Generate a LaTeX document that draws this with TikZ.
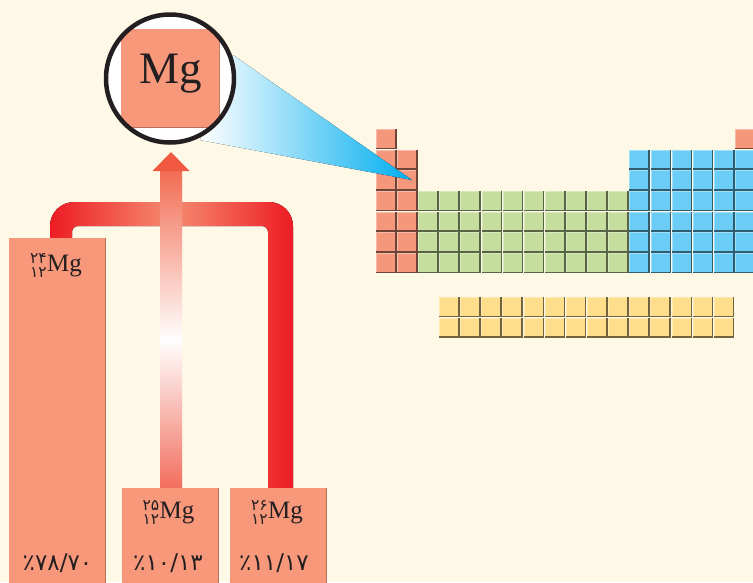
\documentclass[tikz,border=0pt]{standalone}
\usepackage{fontspec}
\setmainfont{Liberation Serif}
\newfontfamily\fadig{DejaVu Sans}
\definecolor{bg}{HTML}{FEF8E7}
\definecolor{salmon}{HTML}{F7987B}
\definecolor{boxedge}{HTML}{B8705C}
\definecolor{cred}{HTML}{F4977B}
\definecolor{cgreen}{HTML}{C6DE9D}
\definecolor{cblue}{HTML}{6BCDF6}
\definecolor{cyell}{HTML}{FEDD8B}
\definecolor{arrred}{HTML}{ED1C24}
\definecolor{arrmid}{HTML}{F58C72}
\definecolor{shafttop}{HTML}{F26C52}
\definecolor{shaftbot}{HTML}{F26E5E}
\definecolor{headc}{HTML}{F15A40}
\definecolor{cyanc}{HTML}{00AEEF}
\definecolor{ink}{HTML}{231F20}
\newcommand\ptcell[3]{%
  \fill[#3] (#1,#2) rectangle ++(20.6,20.2);
  \fill[#3!65!white] (#1,#2) rectangle ++(20.6,0.9);
  \fill[#3!65!white] (#1,#2) rectangle ++(0.9,20.2);
  \fill[#3!45!black] (#1+19.0,#2) rectangle ++(1.6,20.2);
  \fill[#3!45!black] (#1,#2+18.6) rectangle ++(20.6,1.6);
}
\newcommand\ptcellrc[3]{%
  \pgfmathsetmacro\cx{376+(#2-1)*21.12}%
  \pgfmathsetmacro\cy{129+(#1-1)*20.67}%
  \ptcell{\cx}{\cy}{#3}}
\newcommand\isotope[2]{{\fadig\fontsize{15.5}{14}\selectfont\begin{tabular}[c]{@{}r@{}}#1\\#2\end{tabular}}\kern0.3pt{\fontsize{25}{25}\selectfont Mg}}
\begin{document}
\begin{tikzpicture}[x=1pt,y=-1pt,
  isobox/.style={fill=salmon, draw=none, inner sep=0pt, minimum width=97pt},
  pct/.style={font=\fadig\fontsize{23}{23}\selectfont, anchor=base, inner sep=0pt, text=ink},
  iso/.style={inner sep=0pt, text=ink}]
\useasboundingbox (0,0) rectangle (753,582);
\clip (0,0) rectangle (753,582);
\fill[bg] (0,0) rectangle (753,582);

% periodic table
\foreach \c in {1,18} {\ptcellrc{1}{\c}{cred}}
\foreach \r in {2,...,7} {
  \foreach \c in {1,2} {\ptcellrc{\r}{\c}{cred}}
  \foreach \c in {13,...,18} {\ptcellrc{\r}{\c}{cblue}}
}
\foreach \r in {4,...,7} {
  \foreach \c in {3,...,12} {\ptcellrc{\r}{\c}{cgreen}}
}
\foreach \j in {1,2} {
  \foreach \i in {1,...,14} {
    \pgfmathsetmacro\lx{439+(\i-1)*21.14}
    \pgfmathsetmacro\ly{297+(\j-1)*20.8}
    \ptcell{\lx}{\ly}{cyell}
  }
}

% cone
\coordinate (tip) at (412,180);
\fill[left color=white, right color=cyanc] (233,55) -- (tip) -- (200,140) -- cycle;

% magnifier
\node[circle, fill=white, minimum size=128pt, inner sep=0pt] (lens) at (170,78.5) {};
\begin{scope}
  \clip (lens.center) circle[radius=64];
  \node[fill=salmon, minimum width=99pt, minimum height=99pt, inner sep=0pt] (sq) at (170,78.5) {};
  \fill[boxedge] (sq.south west) rectangle ([yshift=1.5pt]sq.south east);
  \fill[boxedge!70!salmon] (sq.north east) rectangle ([xshift=-1pt]sq.south east);
\end{scope}
\draw[ink, line width=4.5pt] (lens.center) circle[radius=64];
\node[font=\fontsize{45}{45}\selectfont, anchor=base, inner sep=0pt, text=ink] (mgbig) at (170.5,83) {Mg};

% bracket
\fill[left color=arrred, right color=arrred, middle color=arrmid]
 (50,238) -- (50,226) arc[start angle=180,end angle=270,radius=24]
 -- (269,202) arc[start angle=270,end angle=360,radius=24]
 -- (293,488) -- (268,488) -- (268,232) arc[start angle=0,end angle=-90,radius=6]
 -- (78,226) arc[start angle=270,end angle=180,radius=6]
 -- (72,238) -- cycle;
% shaft and head
\fill[top color=shafttop, bottom color=white] (160,170) rectangle (182,341);
\fill[top color=white, bottom color=shaftbot] (160,340) rectangle (182,488);
\fill[headc] (152.5,171) -- (171,152) -- (189.5,171) -- cycle;

% boxes
\node[isobox, minimum height=352pt] (b24) at (57.5,414) {};
\node[isobox, minimum height=102pt] (b25) at (170,539) {};
\node[isobox, minimum height=102pt] (b26) at (278.5,539) {};
\foreach \b in {b24,b25,b26} {\fill[boxedge] (\b.north east) rectangle ([xshift=-1.2pt]\b.south east);}

\node[iso] (l24) at (56,268) {\isotope{۲۴}{۱۲}};
\node[iso] (l25) at (168.5,515) {\isotope{۲۵}{۱۲}};
\node[iso] (l26) at (277,515) {\isotope{۲۶}{۱۲}};

\node[pct] (p24) at (57.5,570) {٪۷۸/۷۰};
\node[pct] (p25) at (168,570) {٪۱۰/۱۳};
\node[pct] (p26) at (274,570) {٪۱۱/۱۷};
\end{tikzpicture}
\end{document}
